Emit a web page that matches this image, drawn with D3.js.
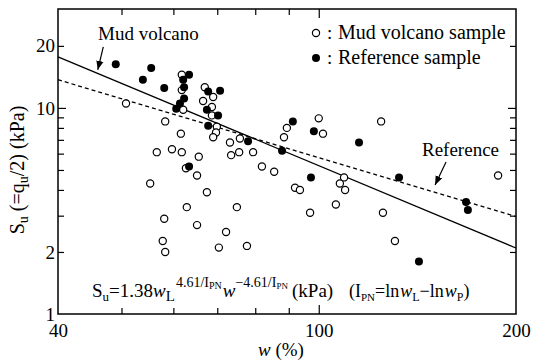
<!DOCTYPE html>
<html>
<head>
<meta charset="utf-8">
<script src="https://cdn.jsdelivr.net/npm/d3@7"></script>
<style>
    body { margin: 0; background: #fff; }
    svg text { font-family: "Liberation Serif", "Times New Roman", serif; fill: #000; }
</style>
</head>
<body>
<div id="chart"></div>
<script>
// Mud volcano samples (open circles): water content w (%) and Su (kPa)
const mudW = [50.8, 58.3, 61.8, 61.8, 62.1, 67.0, 66.6, 69.0, 68.7, 68.7, 69.9, 69.7, 69.0, 61.6,
    56.6, 59.7, 61.8, 65.6, 62.7, 65.2, 73.2, 75.8, 75.6, 73.5, 79.4, 81.9, 55.3, 67.5, 62.9, 75.0,
    58.1, 65.2, 72.2, 57.8, 58.3, 70.4, 77.7, 100.0, 89.4, 88.5, 101.5, 124.5, 85.5, 109.3, 107.7,
    109.7, 92.0, 93.6, 106.2, 97.0, 125.3, 130.7, 187.8];
const mudSu = [10.5, 8.6, 14.5, 12.2, 9.8, 12.6, 10.8, 11.3, 10.1, 9.2, 8.1, 7.6, 7.2, 7.5,
    6.1, 6.3, 6.1, 5.8, 5.1, 4.7, 6.8, 7.1, 6.1, 5.9, 6.1, 5.2, 4.3, 3.9, 3.3, 3.3,
    2.9, 2.7, 2.5, 2.26, 2.0, 2.1, 2.14, 8.9, 8.0, 7.2, 7.5, 8.6, 4.9, 4.6, 4.3,
    4.0, 4.1, 4.0, 3.4, 3.1, 3.1, 2.26, 4.7];

// Reference samples (filled circles)
const refW = [49.0, 55.5, 53.9, 58.1, 63.4, 62.1, 62.3, 60.6, 61.4, 62.3, 67.8, 70.7, 67.5,
    70.2, 67.8, 78.0, 63.4, 91.3, 98.3, 115.2, 87.9, 97.3, 132.6, 167.8, 168.9, 142.2];
const refSu = [16.3, 15.6, 13.7, 12.5, 14.5, 13.7, 12.6, 9.9, 10.5, 11.1, 12.0, 12.1, 9.8,
    9.2, 8.2, 6.9, 5.2, 8.6, 7.7, 6.8, 6.2, 4.6, 4.6, 3.5, 3.2, 1.8];

// Fitted lines (end points)
const fitMudW = [40, 200];
const fitMudSu = [17.7, 2.09];
const fitRefW = [40, 200];
const fitRefSu = [13.7, 2.97];

// Ticks
const xMinorTicks = [50, 60, 70, 80, 90];
const xMajorTicks = [100];
const xTickLabels = [40, 100, 200];
const yMinorTicks = [2, 3, 4, 5, 6, 7, 8, 9, 20];
const yMajorTicks = [10];
const yTickLabels = [1, 2, 10, 20];

const width = 534, height = 360;
const plot = { left: 58, right: 516, top: 9, bottom: 314 };

const svg = d3.select('#chart').append('svg')
    .attr('width', width)
    .attr('height', height);

const x = d3.scaleLog().domain([40, 200]).range([plot.left, plot.right]);
const y = d3.scaleLog().domain([1, 30.2]).range([plot.bottom, plot.top]);

// Ticks (inward) on all four sides
function tickAxis(axisFn, scale, values, size, transform) {
    const g = svg.append('g')
        .attr('transform', transform)
        .call(axisFn(scale).tickValues(values).tickSize(-size).tickFormat(''));
    g.select('.domain').remove();
    g.selectAll('line').attr('stroke', '#000').attr('stroke-width', 1.2);
}
tickAxis(d3.axisBottom, x, xMinorTicks, 6, `translate(0,${plot.bottom})`);
tickAxis(d3.axisBottom, x, xMajorTicks, 9, `translate(0,${plot.bottom})`);
tickAxis(d3.axisTop, x, xMinorTicks, 6, `translate(0,${plot.top})`);
tickAxis(d3.axisTop, x, xMajorTicks, 9, `translate(0,${plot.top})`);
tickAxis(d3.axisLeft, y, yMinorTicks, 6, `translate(${plot.left},0)`);
tickAxis(d3.axisLeft, y, yMajorTicks, 8, `translate(${plot.left},0)`);
tickAxis(d3.axisRight, y, yMinorTicks, 6, `translate(${plot.right},0)`);
tickAxis(d3.axisRight, y, yMajorTicks, 8, `translate(${plot.right},0)`);

// Tick labels
const xLab = svg.append('g')
    .attr('transform', `translate(0,${plot.bottom})`)
    .call(d3.axisBottom(x).tickValues(xTickLabels).tickSize(0).tickPadding(10).tickFormat(d3.format('d')));
xLab.select('.domain').remove();
xLab.selectAll('text').attr('font-size', '19px').attr('font-family', null);

const yLab = svg.append('g')
    .attr('transform', `translate(${plot.left},0)`)
    .call(d3.axisLeft(y).tickValues(yTickLabels).tickSize(0).tickPadding(3).tickFormat(d3.format('d')));
yLab.select('.domain').remove();
yLab.selectAll('text').attr('font-size', '19px').attr('font-family', null);

// Frame
svg.append('rect')
    .attr('x', plot.left)
    .attr('y', plot.top)
    .attr('width', plot.right - plot.left)
    .attr('height', plot.bottom - plot.top)
    .attr('fill', 'none')
    .attr('stroke', '#000')
    .attr('stroke-width', 1.5);

// Fitted lines
const line = d3.line().x(d => x(d[0])).y(d => y(d[1]));
svg.append('path')
    .attr('d', line(d3.zip(fitMudW, fitMudSu)))
    .attr('fill', 'none')
    .attr('stroke', '#000')
    .attr('stroke-width', 1.3);
svg.append('path')
    .attr('d', line(d3.zip(fitRefW, fitRefSu)))
    .attr('fill', 'none')
    .attr('stroke', '#000')
    .attr('stroke-width', 1.3)
    .attr('stroke-dasharray', '4,3');

// Points
svg.append('g').selectAll('circle')
    .data(d3.zip(mudW, mudSu))
    .enter()
    .append('circle')
    .attr('cx', d => x(d[0]))
    .attr('cy', d => y(d[1]))
    .attr('r', 3.6)
    .attr('fill', '#fff')
    .attr('stroke', '#000')
    .attr('stroke-width', 1.2);

svg.append('g').selectAll('circle')
    .data(d3.zip(refW, refSu))
    .enter()
    .append('circle')
    .attr('cx', d => x(d[0]))
    .attr('cy', d => y(d[1]))
    .attr('r', 4)
    .attr('fill', '#000');

// Legend
svg.append('circle').attr('cx', 316).attr('cy', 33).attr('r', 3.6)
    .attr('fill', '#fff').attr('stroke', '#000').attr('stroke-width', 1.2);
svg.append('circle').attr('cx', 316).attr('cy', 58).attr('r', 4).attr('fill', '#000');
svg.append('text').attr('x', 327).attr('y', 39).attr('font-size', '19px').text(':');
svg.append('text').attr('x', 338).attr('y', 39).attr('font-size', '20px').text('Mud volcano sample');
svg.append('text').attr('x', 327).attr('y', 64).attr('font-size', '19px').text(':');
svg.append('text').attr('x', 338).attr('y', 64).attr('font-size', '20px').text('Reference sample');

// Annotations with arrows
svg.append('defs').append('marker')
    .attr('id', 'arrow')
    .attr('viewBox', '0 0 10 10')
    .attr('refX', 10).attr('refY', 5)
    .attr('markerWidth', 9).attr('markerHeight', 9)
    .attr('markerUnits', 'userSpaceOnUse')
    .attr('orient', 'auto')
    .append('path')
    .attr('d', 'M0,1 L10,5 L0,9 Z')
    .attr('fill', '#000');

svg.append('text').attr('x', 98).attr('y', 40).attr('font-size', '19px').text('Mud volcano');
svg.append('line')
    .attr('x1', x(46.9)).attr('y1', y(19.8))
    .attr('x2', x(46.0)).attr('y2', y(15.3))
    .attr('stroke', '#000').attr('stroke-width', 1.2)
    .attr('marker-end', 'url(#arrow)');

svg.append('text').attr('x', 422).attr('y', 156).attr('font-size', '19px').text('Reference');
svg.append('line')
    .attr('x1', x(156.4)).attr('y1', y(5.47))
    .attr('x2', x(150.5)).attr('y2', y(4.23))
    .attr('stroke', '#000').attr('stroke-width', 1.2)
    .attr('marker-end', 'url(#arrow)');

// Equation
const eq = svg.append('text').attr('x', 92).attr('y', 297).attr('font-size', '19px');
eq.append('tspan').text('S');
eq.append('tspan').attr('font-size', '13px').attr('dy', 4).text('u');
eq.append('tspan').attr('dy', -4).text('=1.38');
eq.append('tspan').attr('font-style', 'italic').text('w');
eq.append('tspan').attr('font-size', '15px').attr('dy', 4).text('L');
eq.append('tspan').attr('font-size', '14px').attr('dy', -14).attr('dx', 1).text('4.61/I');
eq.append('tspan').attr('font-size', '10px').attr('dy', 2).text('PN');
eq.append('tspan').attr('font-style', 'italic').attr('dy', 8).attr('dx', 1).text('w');
eq.append('tspan').attr('font-size', '14px').attr('dy', -10).text('\u22124.61/I');
eq.append('tspan').attr('font-size', '9px').attr('dy', 2).text('PN');

svg.append('text').attr('x', 292).attr('y', 297).attr('font-size', '19px').text('(kPa)');

const ipn = svg.append('text').attr('x', 349).attr('y', 297).attr('font-size', '18px');
ipn.append('tspan').text('(I');
ipn.append('tspan').attr('font-size', '11px').attr('dy', 4).text('PN');
ipn.append('tspan').attr('dy', -4).text('=ln');
ipn.append('tspan').attr('font-style', 'italic').attr('dx', 1).text('w');
ipn.append('tspan').attr('font-size', '12px').attr('dy', 4).text('L');
ipn.append('tspan').attr('dy', -4).text('\u2212ln');
ipn.append('tspan').attr('font-style', 'italic').attr('dx', 1).text('w');
ipn.append('tspan').attr('font-size', '12px').attr('dy', 4).text('P');
ipn.append('tspan').attr('dy', -4).text(')');

// Axis titles
const xt = svg.append('text')
    .attr('x', 281).attr('y', 356)
    .attr('text-anchor', 'middle')
    .attr('font-size', '19px');
xt.append('tspan').attr('font-style', 'italic').text('w');
xt.append('tspan').text('\u00a0(%)');

const yt = svg.append('text')
    .attr('transform', 'translate(24,170) rotate(-90)')
    .attr('text-anchor', 'middle')
    .attr('font-size', '20px');
yt.append('tspan').text('S');
yt.append('tspan').attr('font-size', '14px').attr('dy', 4).text('u');
yt.append('tspan').attr('dy', -4).text('\u00a0(=q');
yt.append('tspan').attr('font-size', '14px').attr('dy', 4).text('u');
yt.append('tspan').attr('dy', -4).text('/2) (kPa)');
</script>
</body>
</html>
